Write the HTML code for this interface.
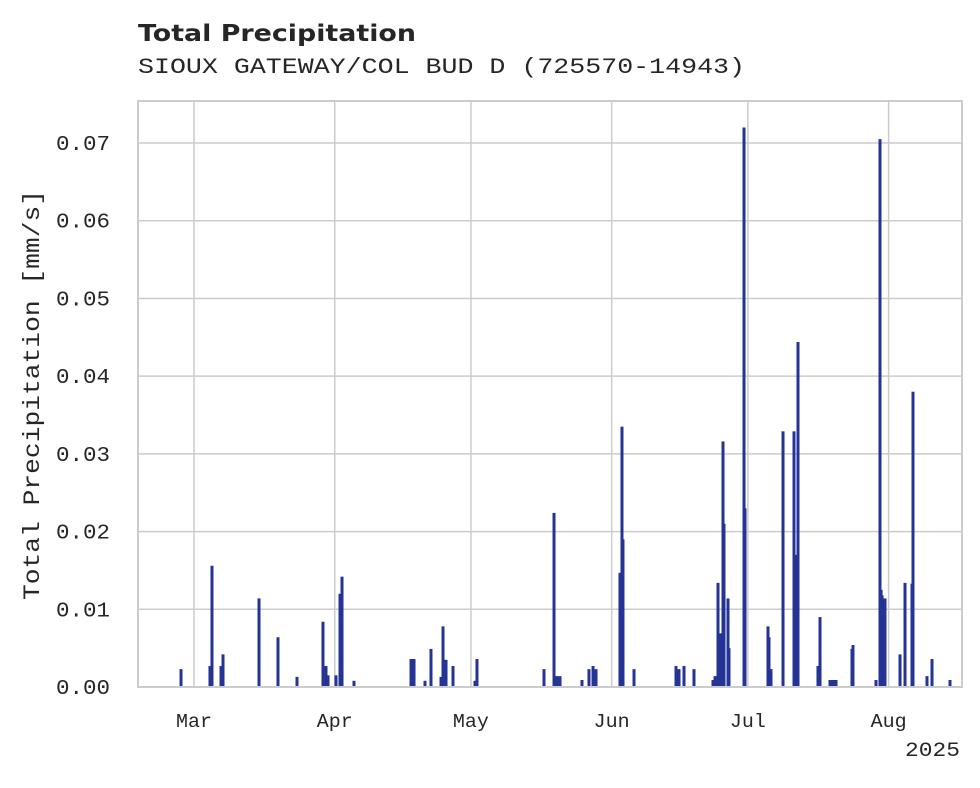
<!DOCTYPE html>
<html><head><meta charset="utf-8"><style>
body{margin:0;background:#fff;width:980px;height:783px;overflow:hidden}
svg text{fill:#262626}
.mono{font-family:"Liberation Mono","DejaVu Sans Mono",monospace}
</style></head><body>
<svg id="chart" width="980" height="783" xmlns="http://www.w3.org/2000/svg">
<text x="138" y="41" font-family="DejaVu Sans, Liberation Sans, sans-serif" font-weight="bold" font-size="23" textLength="278" lengthAdjust="spacingAndGlyphs">Total Precipitation</text>
<text class="mono" x="138" y="73" font-size="22" textLength="607" lengthAdjust="spacingAndGlyphs">SIOUX GATEWAY/COL BUD D (725570-14943)</text>
<g id="grid"></g>
<g id="bars"></g>
<rect x="138" y="101" width="824" height="586" fill="none" stroke="#cccccc" stroke-width="2"/>
<g id="ticks"></g>
<text class="mono" font-size="23" transform="translate(39,395) rotate(-90)" text-anchor="middle" textLength="410" lengthAdjust="spacingAndGlyphs">Total Precipitation [mm/s]</text>
<text class="mono" x="960" y="756" font-size="20" text-anchor="end" textLength="55" lengthAdjust="spacingAndGlyphs">2025</text>
</svg>
<script>
// days since Mar 1 2025
const days=[-2.86,3.52,3.96,5.95,6.39,14.32,18.5,22.69,28.41,29.07,29.52,31.28,32.16,32.6,35.24,47.8,48.46,50.88,52.2,54.41,54.85,55.51,57.05,61.89,62.33,77.09,79.3,79.96,80.62,85.46,87.0,87.89,88.55,93.83,94.27,94.49,96.92,106.17,106.83,107.93,110.13,114.32,114.76,115.42,115.86,116.52,116.74,117.62,117.84,121.15,121.37,126.43,126.65,127.09,129.74,132.16,132.6,133.04,137.44,137.89,140.09,140.75,141.41,144.93,145.15,150.22,151.1,151.34,151.56,152.2,155.51,156.61,158.15,158.37,161.45,162.56,166.52];
const values=[0.0023,0.0027,0.0156,0.0027,0.0042,0.0114,0.0064,0.0013,0.0084,0.0027,0.0015,0.0015,0.012,0.0142,0.0008,0.0036,0.0036,0.0008,0.0049,0.0013,0.0078,0.0035,0.0027,0.0008,0.0036,0.0023,0.0224,0.0014,0.0014,0.0009,0.0023,0.0027,0.0023,0.0147,0.0335,0.019,0.0023,0.0027,0.0023,0.0027,0.0023,0.0009,0.0014,0.0134,0.0069,0.0316,0.021,0.0114,0.005,0.072,0.023,0.0078,0.0064,0.0023,0.0329,0.0329,0.017,0.0444,0.0027,0.009,0.0009,0.0009,0.0009,0.0049,0.0054,0.0009,0.0705,0.0125,0.0118,0.0114,0.0042,0.0134,0.0133,0.038,0.0014,0.0036,0.0009];
const yTicks=[0,0.01,0.02,0.03,0.04,0.05,0.06,0.07];
const yTickLabels=["0.00","0.01","0.02","0.03","0.04","0.05","0.06","0.07"];
const monthDays=[0,31,61,92,122,153];
const monthLabels=["Mar","Apr","May","Jun","Jul","Aug"];
const X=d=>194+d*4.54;
const Y=v=>687-v*7771;
const NS="http://www.w3.org/2000/svg";
const grid=document.getElementById('grid'),bars=document.getElementById('bars'),ticks=document.getElementById('ticks');
function mk(tag,attrs,parent){const e=document.createElementNS(NS,tag);for(const k in attrs)e.setAttribute(k,attrs[k]);parent.appendChild(e);return e;}
yTicks.forEach((t,i)=>{
  const l=mk('line',{x1:138,x2:962,y1:Y(t),y2:Y(t),stroke:'#cccccc','stroke-width':1.5},grid);
  
  
  const tx=mk('text',{x:110,y:Y(t)+7,'text-anchor':'end','font-size':21,class:'mono',textLength:54,lengthAdjust:'spacingAndGlyphs'},ticks);
  tx.textContent=yTickLabels[i];
  
  
});
monthDays.forEach((d,i)=>{
  const l=mk('line',{x1:X(d),x2:X(d),y1:101,y2:687,stroke:'#cccccc','stroke-width':1.5},grid);
  
  
  const tx=mk('text',{x:X(d),y:727,'text-anchor':'middle','font-size':19,class:'mono',textLength:36,lengthAdjust:'spacingAndGlyphs'},ticks);
  tx.textContent=monthLabels[i];
  
  
});
days.forEach((d,i)=>{
  const r=mk('rect',{x:X(d)-1.5,y:Y(values[i]),width:3,height:687-Y(values[i]),fill:'#253494'},bars);
  
  
});
</script>
</body></html>
